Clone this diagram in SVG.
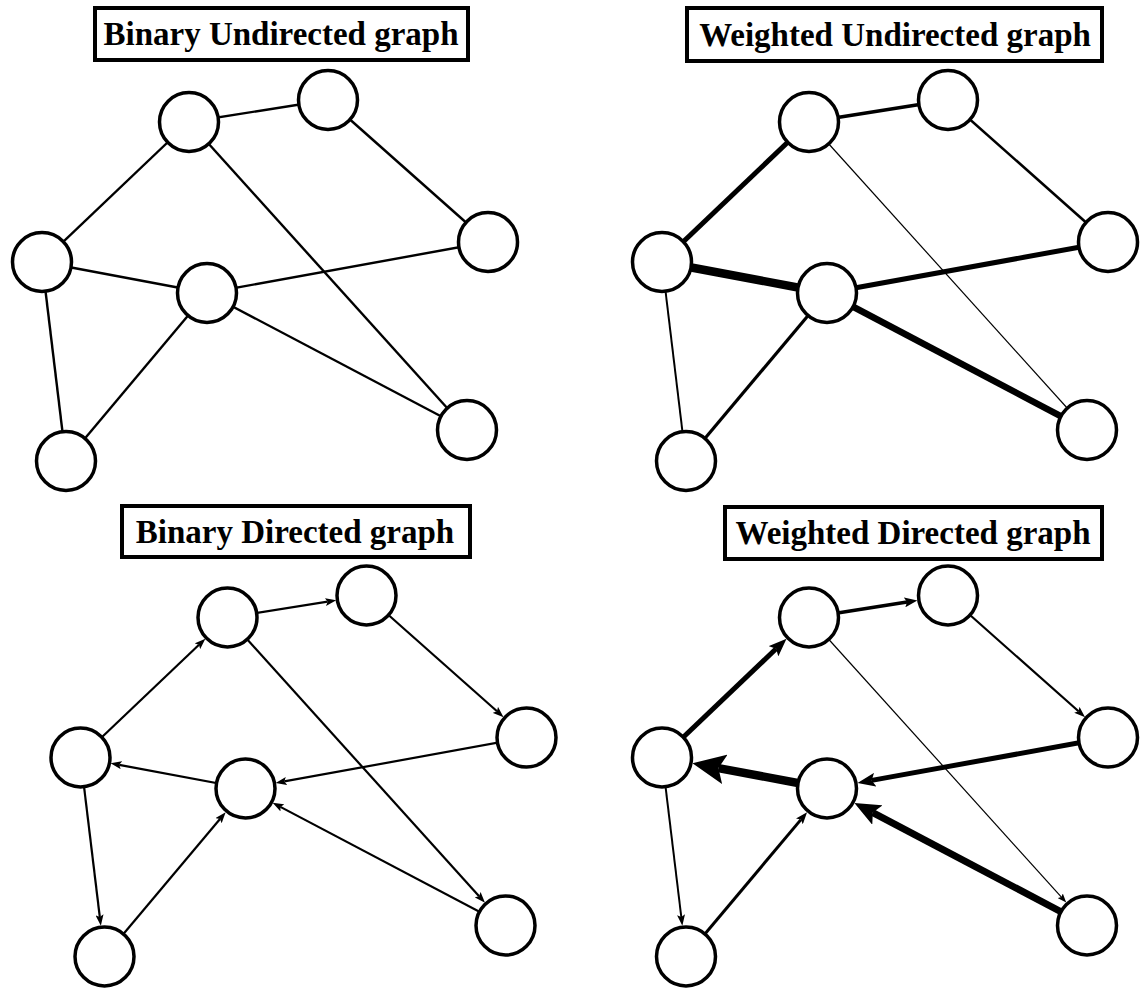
<svg xmlns="http://www.w3.org/2000/svg" width="1141" height="989" viewBox="0 0 1141 989">
<style>
.bg{fill:#fff}
.tbox{fill:#fff;stroke:#000;stroke-width:4}
.ttl{font-family:"Liberation Serif","Times New Roman",serif;font-weight:bold;font-size:33px;fill:#000;text-anchor:middle}
.node circle{fill:#fff;stroke:#000;stroke-width:3.5}
.e{stroke:#000;fill:none;stroke-linecap:butt}
.w1{stroke-width:2.4}
.wd{stroke-width:2.2}
</style>
<defs>
<marker id="a9" markerUnits="userSpaceOnUse" viewBox="0 0 9 7" markerWidth="9" markerHeight="7" refX="1.8" refY="3.5" orient="auto"><path d="M0,0 L9,3.5 L0,7 L1.8,3.5 Z" fill="#000"/></marker>
<marker id="a10" markerUnits="userSpaceOnUse" viewBox="0 0 11 8" markerWidth="11" markerHeight="8" refX="2.2" refY="4" orient="auto"><path d="M0,0 L11,4 L0,8 L2.2,4 Z" fill="#000"/></marker>
<marker id="a12" markerUnits="userSpaceOnUse" viewBox="0 0 12 9" markerWidth="12" markerHeight="9" refX="2.4" refY="4.5" orient="auto"><path d="M0,0 L12,4.5 L0,9 L2.4,4.5 Z" fill="#000"/></marker>
<marker id="a13" markerUnits="userSpaceOnUse" viewBox="0 0 13 10" markerWidth="13" markerHeight="10" refX="2.6" refY="5" orient="auto"><path d="M0,0 L13,5 L0,10 L2.6,5 Z" fill="#000"/></marker>
<marker id="a18" markerUnits="userSpaceOnUse" viewBox="0 0 18 14" markerWidth="18" markerHeight="14" refX="3.6" refY="7" orient="auto"><path d="M0,0 L18,7 L0,14 L3.6,7 Z" fill="#000"/></marker>
<marker id="a26" markerUnits="userSpaceOnUse" viewBox="0 0 26 22" markerWidth="26" markerHeight="22" refX="5.2" refY="11" orient="auto"><path d="M0,0 L26,11 L0,22 L5.2,11 Z" fill="#000"/></marker>
<marker id="a33" markerUnits="userSpaceOnUse" viewBox="0 0 33 30" markerWidth="33" markerHeight="30" refX="6.6" refY="15" orient="auto"><path d="M0,0 L33,15 L0,30 L6.6,15 Z" fill="#000"/></marker>
</defs>
<rect class="bg" x="0" y="0" width="1141" height="989"/>

<g id="titles">
<g id="title-binary-undirected"><rect class="tbox" x="95" y="8" width="373" height="52"/><text class="ttl" x="281" y="45">Binary Undirected graph</text></g>
<g id="title-weighted-undirected"><rect class="tbox" x="687" y="8" width="415" height="53"/><text class="ttl" x="895" y="46">Weighted Undirected graph</text></g>
<g id="title-binary-directed"><rect class="tbox" x="122" y="506" width="348" height="51"/><text class="ttl" x="295" y="543">Binary Directed graph</text></g>
<g id="title-weighted-directed"><rect class="tbox" x="725" y="507" width="377" height="52"/><text class="ttl" x="913" y="544">Weighted Directed graph</text></g>
</g>

<g id="connectors">
<line class="e w1" x1="189" y1="122" x2="328" y2="100"/>
<line class="e w1" x1="189" y1="122" x2="42" y2="262"/>
<line class="e w1" x1="189" y1="122" x2="467" y2="430"/>
<line class="e w1" x1="328" y1="100" x2="488" y2="242"/>
<line class="e w1" x1="42" y1="262" x2="207" y2="293"/>
<line class="e w1" x1="42" y1="262" x2="66" y2="461"/>
<line class="e w1" x1="207" y1="293" x2="488" y2="242"/>
<line class="e w1" x1="207" y1="293" x2="66" y2="461"/>
<line class="e w1" x1="207" y1="293" x2="467" y2="430"/>

<line class="e" stroke-width="3.5" x1="809" y1="122" x2="948" y2="100"/>
<line class="e" stroke-width="5" x1="809" y1="122" x2="662" y2="262"/>
<line class="e" stroke-width="1.2" x1="809" y1="122" x2="1087" y2="430"/>
<line class="e" stroke-width="2.6" x1="948" y1="100" x2="1108" y2="242"/>
<line class="e" stroke-width="8.5" x1="662" y1="262" x2="827" y2="293"/>
<line class="e" stroke-width="2" x1="662" y1="262" x2="686" y2="461"/>
<line class="e" stroke-width="5" x1="827" y1="293" x2="1108" y2="242"/>
<line class="e" stroke-width="3.2" x1="827" y1="293" x2="686" y2="461"/>
<line class="e" stroke-width="6.5" x1="827" y1="293" x2="1087" y2="430"/>

<line class="e wd" x1="227.5" y1="617.5" x2="327.6" y2="601.7" marker-end="url(#a10)"/>
<line class="e wd" x1="80.5" y1="757.5" x2="199.0" y2="644.7" marker-end="url(#a10)"/>
<line class="e wd" x1="366.5" y1="595.5" x2="497.0" y2="711.3" marker-end="url(#a10)"/>
<line class="e wd" x1="227.5" y1="617.5" x2="479.1" y2="896.3" marker-end="url(#a10)"/>
<line class="e wd" x1="526.5" y1="737.5" x2="284.3" y2="781.4" marker-end="url(#a10)"/>
<line class="e wd" x1="245.5" y1="788.5" x2="119.2" y2="764.8" marker-end="url(#a10)"/>
<line class="e wd" x1="80.5" y1="757.5" x2="99.8" y2="917.0" marker-end="url(#a10)"/>
<line class="e wd" x1="104.5" y1="956.5" x2="220.0" y2="819.0" marker-end="url(#a10)"/>
<line class="e wd" x1="505.5" y1="925.5" x2="280.4" y2="806.9" marker-end="url(#a10)"/>

<line class="e" stroke-width="3.5" x1="809" y1="617.5" x2="907.1" y2="602" marker-end="url(#a13)"/>
<line class="e" stroke-width="5" x1="662" y1="757.5" x2="776.1" y2="648.8" marker-end="url(#a18)"/>
<line class="e" stroke-width="2.2" x1="948" y1="595.5" x2="1078.5" y2="711.3" marker-end="url(#a10)"/>
<line class="e" stroke-width="1.2" x1="809" y1="617.5" x2="1061.4" y2="897.1" marker-end="url(#a9)"/>
<line class="e" stroke-width="5" x1="1108" y1="737.5" x2="871.7" y2="780.4" marker-end="url(#a18)"/>
<line class="e" stroke-width="8.5" x1="827" y1="788.5" x2="718.4" y2="768.1" marker-end="url(#a33)"/>
<line class="e" stroke-width="2" x1="662" y1="757.5" x2="681.3" y2="917.0" marker-end="url(#a10)"/>
<line class="e" stroke-width="3" x1="686" y1="956.5" x2="800.9" y2="819.6" marker-end="url(#a12)"/>
<line class="e" stroke-width="7" x1="1087" y1="925.5" x2="872.8" y2="812.6" marker-end="url(#a26)"/>
</g>

<g id="nodes">
<g id="p1-a" class="node"><circle cx="189" cy="122" r="29.5"/></g>
<g id="p1-b" class="node"><circle cx="328" cy="100" r="29.5"/></g>
<g id="p1-c" class="node"><circle cx="488" cy="242" r="29.5"/></g>
<g id="p1-d" class="node"><circle cx="42" cy="262" r="29.5"/></g>
<g id="p1-e" class="node"><circle cx="207" cy="293" r="29.5"/></g>
<g id="p1-f" class="node"><circle cx="66" cy="461" r="29.5"/></g>
<g id="p1-g" class="node"><circle cx="467" cy="430" r="29.5"/></g>

<g id="p2-a" class="node"><circle cx="809" cy="122" r="29.5"/></g>
<g id="p2-b" class="node"><circle cx="948" cy="100" r="29.5"/></g>
<g id="p2-c" class="node"><circle cx="1108" cy="242" r="29.5"/></g>
<g id="p2-d" class="node"><circle cx="662" cy="262" r="29.5"/></g>
<g id="p2-e" class="node"><circle cx="827" cy="293" r="29.5"/></g>
<g id="p2-f" class="node"><circle cx="686" cy="461" r="29.5"/></g>
<g id="p2-g" class="node"><circle cx="1087" cy="430" r="29.5"/></g>

<g id="p3-a" class="node"><circle cx="227.5" cy="617.5" r="29.5"/></g>
<g id="p3-b" class="node"><circle cx="366.5" cy="595.5" r="29.5"/></g>
<g id="p3-c" class="node"><circle cx="526.5" cy="737.5" r="29.5"/></g>
<g id="p3-d" class="node"><circle cx="80.5" cy="757.5" r="29.5"/></g>
<g id="p3-e" class="node"><circle cx="245.5" cy="788.5" r="29.5"/></g>
<g id="p3-f" class="node"><circle cx="104.5" cy="956.5" r="29.5"/></g>
<g id="p3-g" class="node"><circle cx="505.5" cy="925.5" r="29.5"/></g>

<g id="p4-a" class="node"><circle cx="809" cy="617.5" r="29.5"/></g>
<g id="p4-b" class="node"><circle cx="948" cy="595.5" r="29.5"/></g>
<g id="p4-c" class="node"><circle cx="1108" cy="737.5" r="29.5"/></g>
<g id="p4-d" class="node"><circle cx="662" cy="757.5" r="29.5"/></g>
<g id="p4-e" class="node"><circle cx="827" cy="788.5" r="29.5"/></g>
<g id="p4-f" class="node"><circle cx="686" cy="956.5" r="29.5"/></g>
<g id="p4-g" class="node"><circle cx="1087" cy="925.5" r="29.5"/></g>
</g>
</svg>
